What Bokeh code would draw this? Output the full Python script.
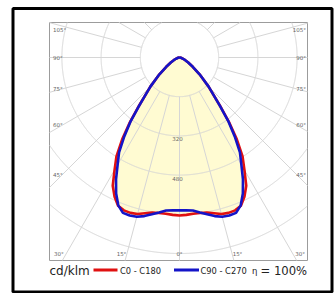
import numpy as np
from bokeh.plotting import figure
from bokeh.models import Range1d
from bokeh.embed import file_html
from bokeh.resources import INLINE
from bokeh.core.properties import value

# ---- data (cd/klm vs. gamma angle in degrees) ----
gamma = [0, 2.5, 5, 7.5, 10, 12.5, 15, 17.5, 20, 22.5, 25, 27.5, 30, 32.5, 35,
         37.5, 40, 45, 50, 55, 60, 65, 70, 75, 80, 85, 90]
c0_c180 = [645, 643, 640, 640, 643, 651, 661, 665, 664, 655, 627, 590, 530, 479, 408,
           332, 257, 168, 107, 66, 41, 26, 15, 9, 5, 2, 0]
c90_c270 = [624, 624, 627, 638, 650, 663, 673, 676, 675, 653, 612, 561, 505, 459, 393,
            326, 255, 168, 107, 66, 41, 26, 15, 9, 5, 2, 0]
ring_values = [160, 320, 480, 640, 800]
ring_labels = ["320", "480"]
angle_ticks = [0, 15, 30, 45, 60, 75, 90, 105]
series_names = ["C0 - C180", "C90 - C270"]
efficiency = "= 100%"

# ---- layout ----
S = 0.245          # px per cd/klm
W, H = 336, 293
CX, CY = 179, 57   # polar centre in canvas px

def P(px, py):
    """canvas pixel -> data"""
    return ((px - CX) / S, -(py - CY) / S)

p = figure(width=W, height=H, output_backend="svg", toolbar_location=None,
           x_range=Range1d(-CX / S, (W - CX) / S),
           y_range=Range1d(-(H - CY) / S, CY / S),
           x_axis_location=None, y_axis_location=None,
           min_border=0, outline_line_color=None)
p.xgrid.visible = False
p.ygrid.visible = False
p.background_fill_color = "white"
p.border_fill_color = "white"

# outer black frame
fl, ft = P(12.5, 8)
fr, fb = P(331.5, 291.5)
p.quad(left=fl, right=fr, top=ft, bottom=fb, fill_color=None,
       line_color="black", line_width=3)

# plot box
bl, bt = P(49, 22)
br, bb = P(307, 260)
p.quad(left=bl, right=br, top=bt, bottom=bb, fill_color="white",
       line_color="#9c9c9c", line_width=1)

def inside(x, y):
    return (x >= bl) & (x <= br) & (y >= bb) & (y <= bt)

# curves in xy
def curve_xy(vals):
    g = np.radians(np.array(gamma, dtype=float))
    v = np.array(vals, dtype=float)
    xr, yr = v * np.sin(g), -v * np.cos(g)
    xs = np.concatenate([-xr[::-1], xr[1:]])
    ys = np.concatenate([yr[::-1], yr[1:]])
    return xs, ys

x_red, y_red = curve_xy(c0_c180)
x_blue, y_blue = curve_xy(c90_c270)

fill_col = "#fffbd2"
p.patch(x_red, y_red, fill_color=fill_col, line_color=None)
p.patch(x_blue, y_blue, fill_color=fill_col, line_color=None)

grid_col = "#d6d6d6"
# rings
th = np.linspace(0, 2 * np.pi, 2001)
for v in ring_values:
    x = v * np.cos(th)
    y = v * np.sin(th)
    m = inside(x, y)
    x = np.where(m, x, np.nan)
    y = np.where(m, y, np.nan)
    p.line(x, y, line_color=grid_col, line_width=1)

# radial lines every 15 degrees, from the first ring to the box edge
for a in range(0, 360, 15):
    g = np.radians(a)
    dx, dy = np.sin(g), -np.cos(g)
    ts = []
    if dx > 1e-9: ts.append(br / dx)
    if dx < -1e-9: ts.append(bl / dx)
    if dy > 1e-9: ts.append(bt / dy)
    if dy < -1e-9: ts.append(bb / dy)
    t1 = min(ts)
    t0 = ring_values[0]
    if t1 > t0:
        p.line([t0 * dx, t1 * dx], [t0 * dy, t1 * dy], line_color=grid_col, line_width=1)

# series lines
p.line(x_red, y_red, line_color="#e01010", line_width=2.6)
p.line(x_blue, y_blue, line_color="#1414c8", line_width=2.6)

# angle labels
lab_font = value("DejaVu Sans")
lab_col = "#666666"
lab_size = "5.5px"
side_pos = {}
for a in angle_ticks:
    if a >= 45:
        yy = 57 + 117 / np.tan(np.radians(a)) if a != 90 else 57
        yy = max(yy, 29)
        side_pos[a] = [(52.5, yy, "left"), (305.5, yy, "right")]
side_pos[0] = [(179, 253, "center")]
side_pos[15] = [(121, 253, "center"), (237, 253, "center")]
side_pos[30] = [(53.5, 253, "left"), (304.5, 253, "right")]
for a in angle_ticks:
    for (px_, py_, al) in side_pos[a]:
        x, y = P(px_, py_)
        p.text([x], [y], text=[f"{a}°"], text_font=lab_font, text_font_size=lab_size,
               text_color=lab_col, text_align=al, text_baseline="middle")

# ring value labels
for v, t in zip(ring_values[1:3], ring_labels):
    x, y = P(177, 57 + v * S + 3)
    p.text([x], [y], text=[t], text_font=lab_font, text_font_size=lab_size,
           text_color=lab_col, text_align="center", text_baseline="middle")

# legend row
x, y = P(49, 270.5)
p.text([x], [y], text=["cd/klm"], text_font=lab_font, text_font_size="12px",
       text_color="#222222", text_align="left", text_baseline="middle")
for (xa, xb, xt, col, name) in [(93, 117, 119.5, "#e01010", series_names[0]),
                               (173.5, 198.5, 200, "#1414c8", series_names[1])]:
    x0, y0 = P(xa, 269.5)
    x1, _ = P(xb, 269.5)
    p.line([x0, x1], [y0, y0], line_color=col, line_width=3)
    xt_, yt_ = P(xt, 270.5)
    p.text([xt_], [yt_], text=[name], text_font=lab_font, text_font_size="8.3px",
           text_color="#222222", text_align="left", text_baseline="middle")
x, y = P(251.5, 270)
p.text([x], [y], text=["η"], text_font=lab_font, text_font_size="8.5px",
       text_color="#222222", text_align="left", text_baseline="middle")
x, y = P(260, 270.5)
p.text([x], [y], text=[efficiency], text_font=lab_font, text_font_size="11.6px",
       text_color="#222222", text_align="left", text_baseline="middle")

open("out.html", "w").write(file_html(p, INLINE))
